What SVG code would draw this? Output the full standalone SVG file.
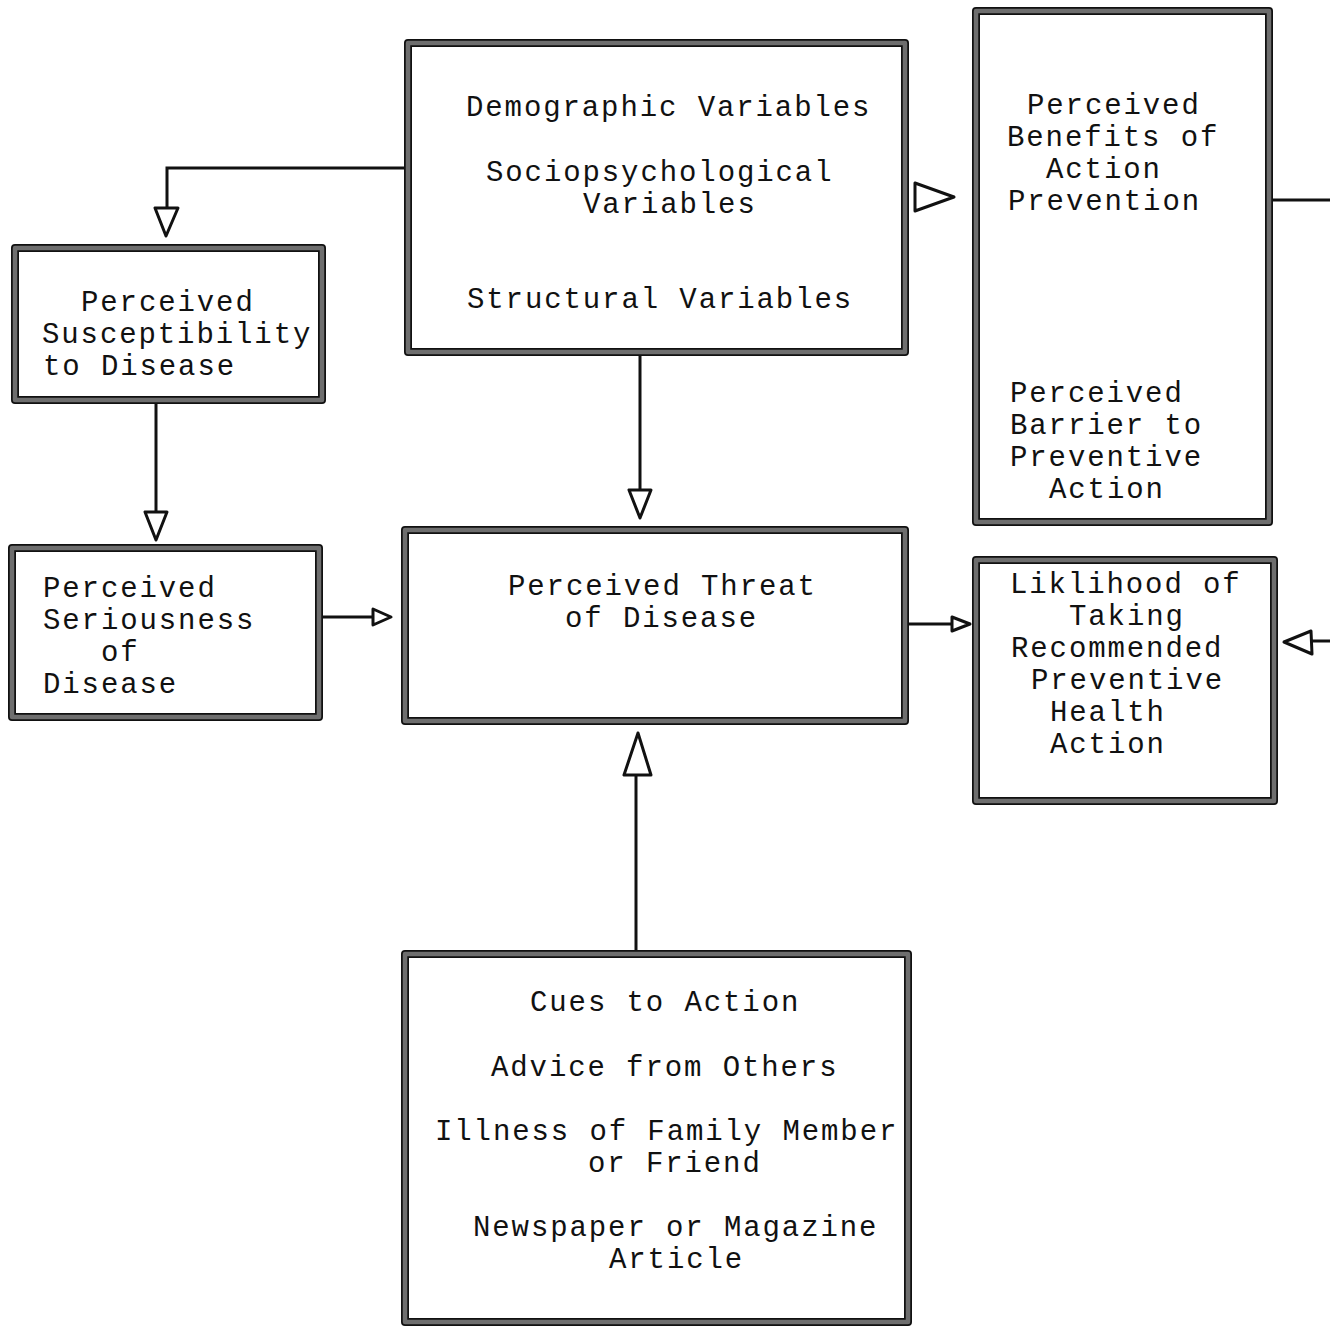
<svg xmlns="http://www.w3.org/2000/svg" width="1330" height="1327" viewBox="0 0 1330 1327">
<style>
.bo{fill:none;stroke:#111;stroke-width:8;stroke-linejoin:round}
.bi{fill:none;stroke:#6e6e6e;stroke-width:4.5;stroke-linejoin:round}
.t{font-family:"Liberation Mono","Courier New",monospace;font-size:29px;letter-spacing:1.9px;fill:#111}
.ln{fill:none;stroke:#111;stroke-width:3}
.ah{fill:#fff;stroke:#111;stroke-width:3;stroke-linejoin:round}
</style>
<rect width="1330" height="1327" fill="#fff"/>
<g id="connectors">
<polyline class="ln" points="405,168 167,168 167,208"/>
<polygon class="ah" points="155,208 178,208 166,236"/>
<line class="ln" x1="156" y1="403" x2="156" y2="512"/>
<polygon class="ah" points="145,512 167,512 156,540"/>
<line class="ln" x1="640" y1="355" x2="640" y2="490"/>
<polygon class="ah" points="629,490 651,490 640,518"/>
<polygon class="ah" points="915,183 915,211 954,197"/>
<line class="ln" x1="322" y1="617" x2="374" y2="617"/>
<polygon class="ah" points="373,609 373,625 391,617"/>
<line class="ln" x1="908" y1="624" x2="952" y2="624"/>
<polygon class="ah" points="952,617 952,631 970,624"/>
<line class="ln" x1="636" y1="951" x2="636" y2="775"/>
<polygon class="ah" points="624,775 651,775 638,733"/>
<line class="ln" x1="1272" y1="200" x2="1330" y2="200"/>
<line class="ln" x1="1312" y1="641" x2="1330" y2="641"/>
<polygon class="ah" points="1311,631 1312,654 1284,642"/>
</g>
<g id="n-demographic">
<rect class="bo" x="408" y="43" width="497" height="309"/>
<rect class="bi" x="408" y="43" width="497" height="309"/>
<text class="t" x="466" y="116">Demographic Variables</text>
<text class="t" x="486" y="181">Sociopsychological</text>
<text class="t" x="583" y="213">Variables</text>
<text class="t" x="467" y="308">Structural Variables</text>
</g>
<g id="n-benefits">
<rect class="bo" x="976" y="11" width="293" height="511"/>
<rect class="bi" x="976" y="11" width="293" height="511"/>
<text class="t" x="1027" y="114">Perceived</text>
<text class="t" x="1007" y="146">Benefits of</text>
<text class="t" x="1046" y="178">Action</text>
<text class="t" x="1008" y="210">Prevention</text>
<text class="t" x="1010" y="402">Perceived</text>
<text class="t" x="1010" y="434">Barrier to</text>
<text class="t" x="1010" y="466">Preventive</text>
<text class="t" x="1049" y="498">Action</text>
</g>
<g id="n-susceptibility">
<rect class="bo" x="15" y="248" width="307" height="152"/>
<rect class="bi" x="15" y="248" width="307" height="152"/>
<text class="t" x="81" y="311">Perceived</text>
<text class="t" x="42" y="343">Susceptibility</text>
<text class="t" x="43" y="375">to Disease</text>
</g>
<g id="n-seriousness">
<rect class="bo" x="12" y="548" width="307" height="169"/>
<rect class="bi" x="12" y="548" width="307" height="169"/>
<text class="t" x="43" y="597">Perceived</text>
<text class="t" x="43" y="629">Seriousness</text>
<text class="t" x="101" y="661">of</text>
<text class="t" x="43" y="693">Disease</text>
</g>
<g id="n-threat">
<rect class="bo" x="405" y="530" width="500" height="191"/>
<rect class="bi" x="405" y="530" width="500" height="191"/>
<text class="t" x="508" y="595">Perceived Threat</text>
<text class="t" x="565" y="627">of Disease</text>
</g>
<g id="n-likelihood">
<rect class="bo" x="976" y="560" width="298" height="241"/>
<rect class="bi" x="976" y="560" width="298" height="241"/>
<text class="t" x="1010" y="593">Liklihood of</text>
<text class="t" x="1069" y="625">Taking</text>
<text class="t" x="1011" y="657">Recommended</text>
<text class="t" x="1031" y="689">Preventive</text>
<text class="t" x="1050" y="721">Health</text>
<text class="t" x="1050" y="753">Action</text>
</g>
<g id="n-cues">
<rect class="bo" x="405" y="954" width="503" height="368"/>
<rect class="bi" x="405" y="954" width="503" height="368"/>
<text class="t" x="530" y="1011">Cues to Action</text>
<text class="t" x="491" y="1076">Advice from Others</text>
<text class="t" x="435" y="1140">Illness of Family Member</text>
<text class="t" x="588" y="1172">or Friend</text>
<text class="t" x="473" y="1236">Newspaper or Magazine</text>
<text class="t" x="609" y="1268">Article</text>
</g>
</svg>
